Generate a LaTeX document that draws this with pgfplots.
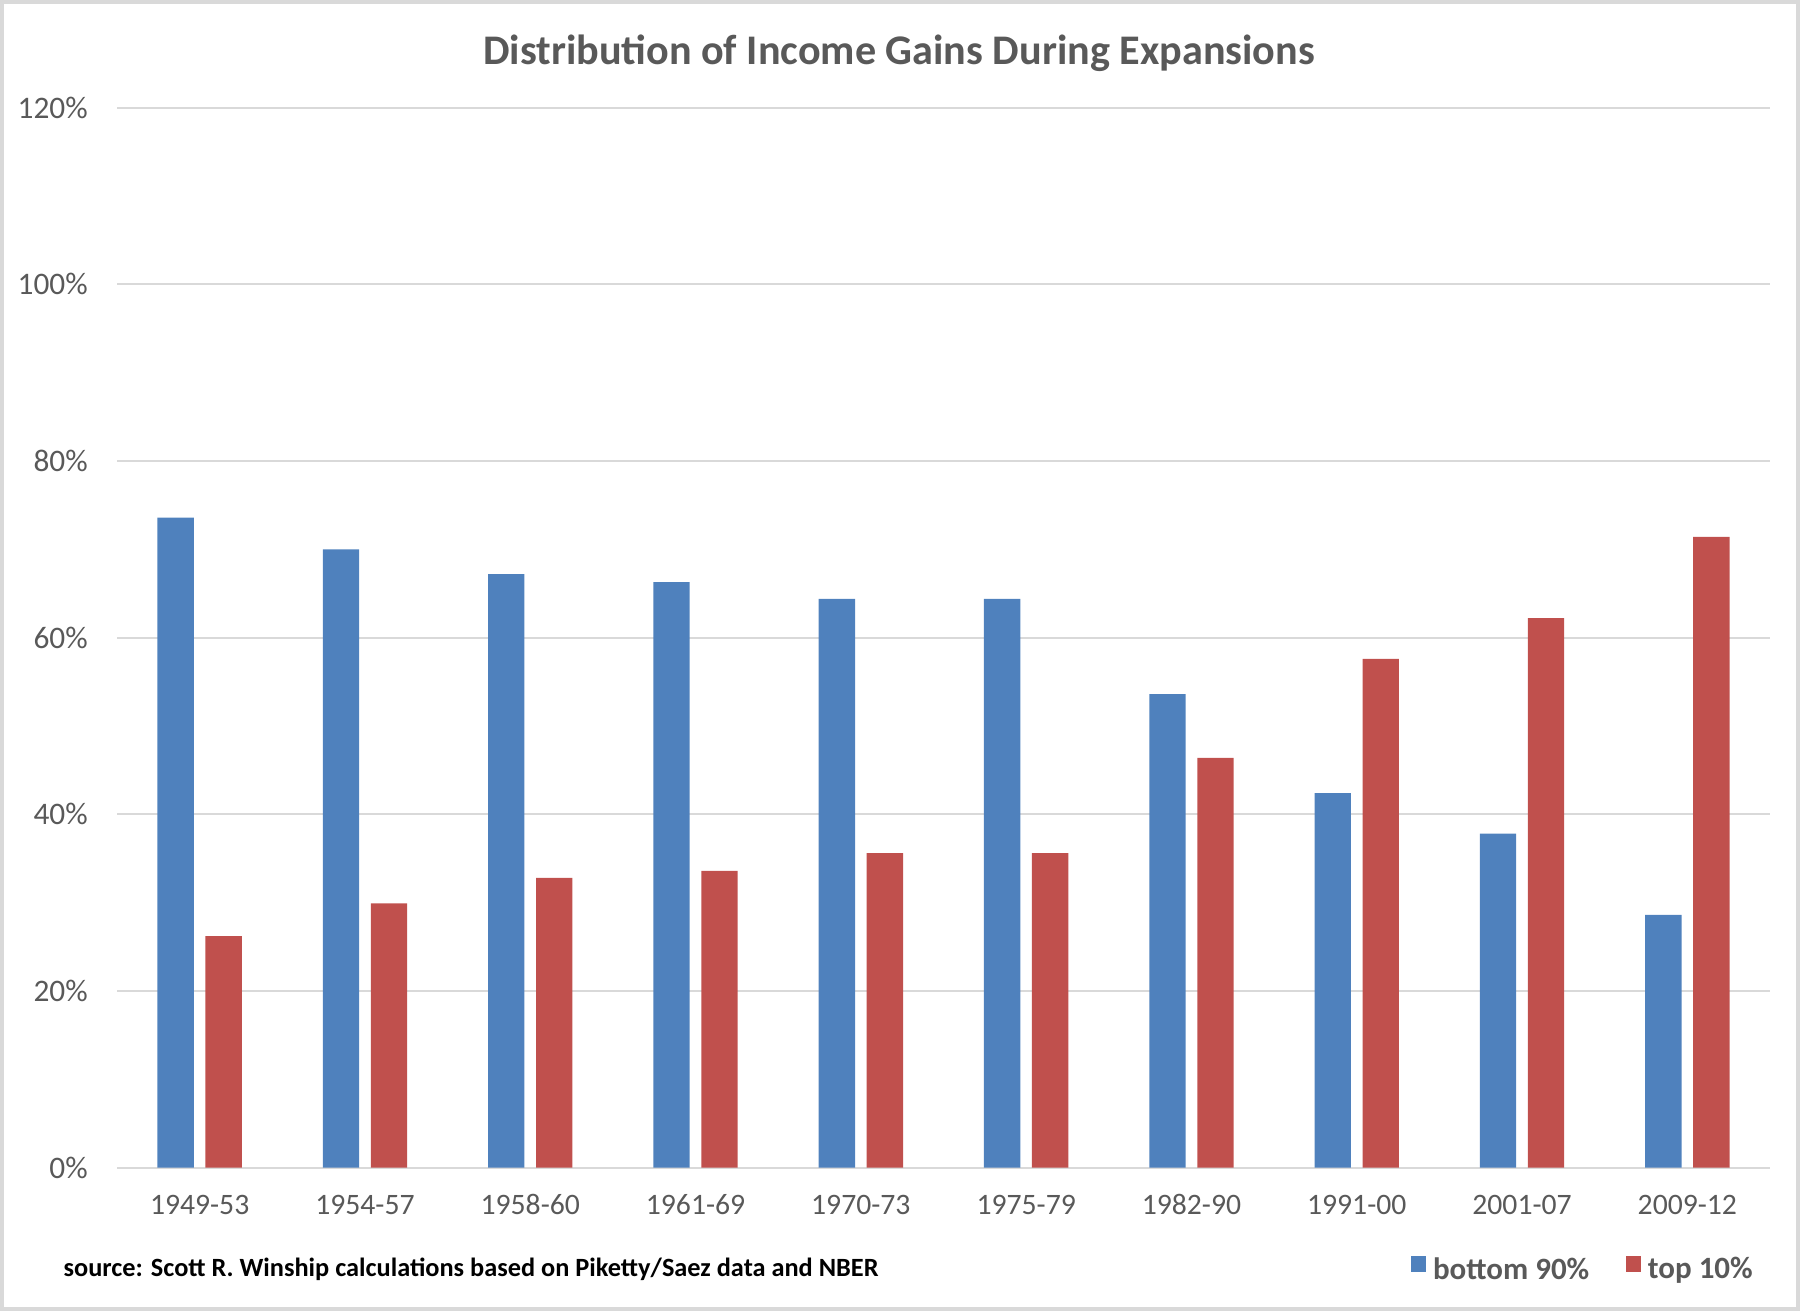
\documentclass[border=0pt]{standalone}
\usepackage{fontspec}
\setmainfont{Carlito}
\usepackage{pgfplots}
\pgfplotsset{compat=1.18}
\definecolor{barblue}{HTML}{4F81BD}
\definecolor{barred}{HTML}{C0504D}
\definecolor{txtgray}{HTML}{595959}
\definecolor{gridgray}{HTML}{D9D9D9}
\begin{document}
\begin{tikzpicture}
\useasboundingbox (0,0) rectangle (540pt,393.3pt);
\draw[gridgray, line width=1.2pt] (0.6pt,0.6pt) rectangle (539.4pt,392.7pt);
\begin{axis}[
  at={(35.1pt,43.05pt)}, anchor=south west,
  scale only axis, width=495.9pt, height=317.9pt,
  ybar, bar width=10.9pt,
  xmin=-0.5, xmax=9.5, ymin=0, ymax=120,
  xtick={0,...,9},
  xticklabels={1949-53,1954-57,1958-60,1961-69,1970-73,1975-79,1982-90,1991-00,2001-07,2009-12},
  ytick={0,20,...,120},
  yticklabel={\pgfmathprintnumber{\tick}\%},
  /pgf/number format/assume math mode=true,
  major tick length=0pt,
  axis line style={draw=none},
  ymajorgrids, grid style={gridgray, line width=0.6pt},
  ticklabel style={text=txtgray},
  xticklabel style={font=\fontsize{8.9}{11}\selectfont, anchor=base, yshift=-14.1pt},
  yticklabel style={font=\fontsize{9.4}{11}\selectfont, anchor=east, inner sep=0pt, xshift=-8.6pt},
  legend style={at={(axis description cs:0.994,-0.117)}, anchor=south east, draw=none, fill=none,
    inner sep=0pt,
    legend columns=2, font=\bfseries\fontsize{9.3}{12}\selectfont, text=txtgray,
    /tikz/every even column/.append style={column sep=9pt},
    /tikz/every odd column/.append style={column sep=0pt},
    nodes={inner xsep=2pt}},
  legend image code/.code={\fill[#1] (0pt,-0.3pt) rectangle (4.6pt,4.4pt);},
  clip=false,
]
\addplot+[bar shift=-7.2pt, fill=barblue, draw=none] coordinates {
 (0,73.6) (1,70.0) (2,67.2) (3,66.3) (4,64.4) (5,64.4) (6,53.6) (7,42.4) (8,37.8) (9,28.6)};
\addlegendentry{bottom 90\%}
\addplot+[bar shift=7.2pt, fill=barred, draw=none] coordinates {
 (0,26.2) (1,29.9) (2,32.8) (3,33.6) (4,35.6) (5,35.6) (6,46.4) (7,57.6) (8,62.2) (9,71.4)};
\addlegendentry{top 10\%}
\end{axis}
\node[anchor=base, text=txtgray, font=\bfseries\fontsize{12.65}{15}\selectfont] at (269.7pt,374pt) {Distribution of Income Gains During Expansions};
\node[anchor=base west, inner sep=0pt, font=\bfseries\fontsize{7.9}{9}\selectfont] at (18.9pt,10.3pt) {source: Scott R. Winship calculations based on Piketty/Saez data and NBER};
\end{tikzpicture}
\end{document}
